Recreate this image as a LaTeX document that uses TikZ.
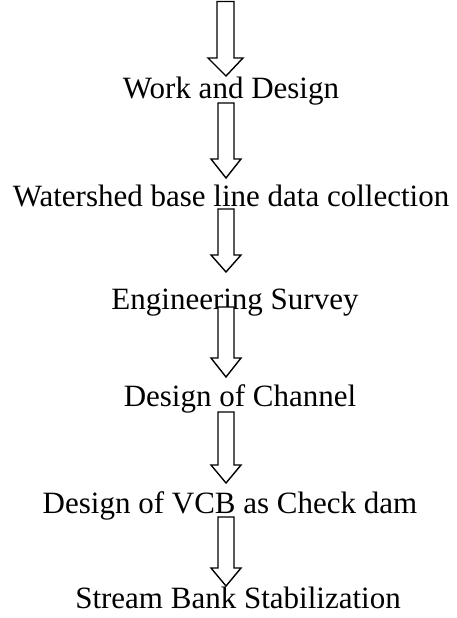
\documentclass[tikz,border=0pt]{standalone}
\usepackage{fontspec}
\setmainfont{Liberation Serif}
\tikzset{
  lbl/.style={anchor=base, inner sep=0pt, font=\fontsize{31}{36}\selectfont},
  barr/.style={draw=black, line width=1.4pt, fill=white, line join=miter}
}
\newcommand\blockarr[3]{%
  \draw[barr] (218pt,-#1pt) -- (218pt,-#2pt) -- (211pt,-#2pt) -- (226pt,-#3pt)
    -- (241pt,-#2pt) -- (234pt,-#2pt) -- (234pt,-#1pt) -- cycle;}
\begin{document}
\begin{tikzpicture}[x=1pt,y=1pt]
\useasboundingbox (0,0) rectangle (456,-618);
\node[lbl] (t1) at (231,-98) {Work and Design};
\node[lbl] (t2) at (231,-206) {Watershed base line data collection};
\node[lbl] (t3) at (235,-309) {Engineering Survey};
\node[lbl] (t4) at (240,-406) {Design of Channel};
\node[lbl] (t5) at (230,-513) {Design of VCB as Check dam};
\node[lbl] (t6) at (238,-608) {Stream Bank Stabilization};
\draw[barr] (217pt,-1.5pt) -- (217pt,-58pt) -- (208pt,-58pt) -- (226pt,-76pt)
    -- (243pt,-58pt) -- (234pt,-58pt) -- (234pt,-1.5pt) -- cycle;
\blockarr{103}{159}{178}
\blockarr{209}{255}{272}
\blockarr{307}{358}{377}
\blockarr{412}{465}{483}
\blockarr{517}{568}{586}
\end{tikzpicture}
\end{document}
